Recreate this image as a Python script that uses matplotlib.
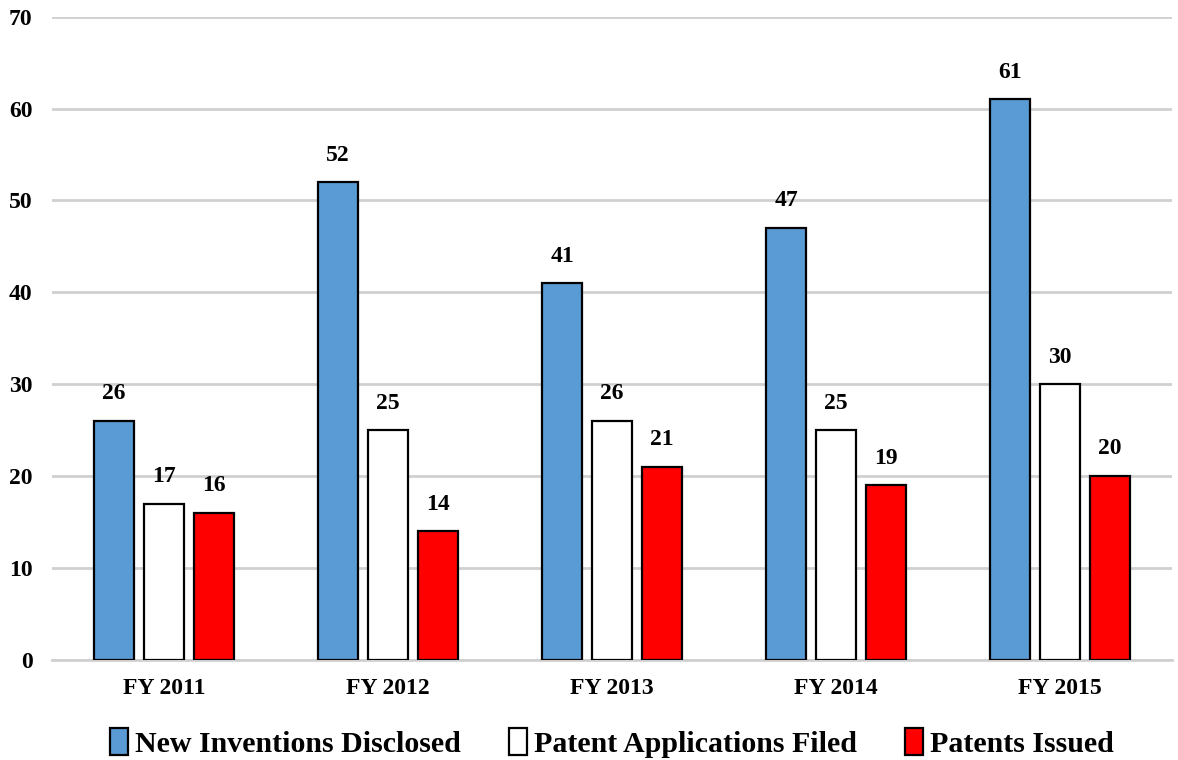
import matplotlib
matplotlib.use("Agg")
import matplotlib.pyplot as plt
import numpy as np

years = ["FY 2011", "FY 2012", "FY 2013", "FY 2014", "FY 2015"]
disclosed = [26, 52, 41, 47, 61]
filed = [17, 25, 26, 25, 30]
issued = [16, 14, 21, 19, 20]

series = [
    ("New Inventions Disclosed", disclosed, "#5b9bd5"),
    ("Patent Applications Filed", filed, "#ffffff"),
    ("Patents Issued", issued, "#ff0000"),
]

plt.rcParams['font.family'] = ['Liberation Serif', 'DejaVu Serif']
plt.rcParams['font.weight'] = 'bold'

fig = plt.figure(figsize=(11.78, 7.6), dpi=100)
ax = fig.add_axes([0.044, 0.132, 0.951, 0.846])

x = np.arange(len(years))
width = 0.18
offsets = [-0.223, 0, 0.223]

for (name, vals, color), off in zip(series, offsets):
    bars = ax.bar(x + off, vals, width, color=color, edgecolor="black",
                  linewidth=1.6, label=name, zorder=3)
    for b, v in zip(bars, vals):
        ax.text(b.get_x() + b.get_width() / 2, v + 1.8, str(v),
                ha="center", va="bottom", fontsize=17, fontweight="bold")

ax.set_xlim(-0.5, len(years) - 0.5)
ax.set_ylim(0, 70)
ax.set_yticks(range(0, 71, 10))
ax.set_xticks(x)
ax.set_xticklabels(years)
ax.tick_params(axis="both", length=0, labelsize=17)
ax.tick_params(axis="y", pad=14)
ax.tick_params(axis="x", pad=13)
ax.yaxis.grid(True, color="#d0d0d0", linewidth=2, zorder=0)
for s in ["top", "right", "left"]:
    ax.spines[s].set_visible(False)
ax.spines["bottom"].set_color("#d0d0d0")
ax.spines["bottom"].set_linewidth(2)

handles, labels = ax.get_legend_handles_labels()
fig.legend(handles, labels, loc="center", bbox_to_anchor=(612 / 1178, 17 / 760),
           ncol=3, frameon=False, prop={"size": 21.5, "weight": "bold"},
           handlelength=0.6, handleheight=1.0, handletextpad=0.25,
           columnspacing=1.6, borderpad=0.1)

fig.savefig("out.png", dpi=100)
